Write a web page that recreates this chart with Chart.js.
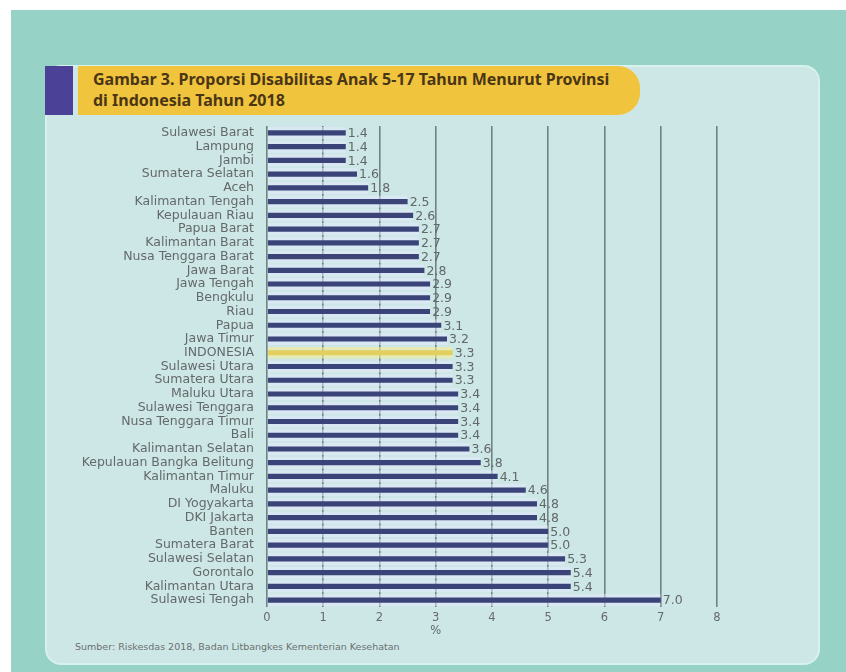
<!DOCTYPE html>
<html>
<head>
<meta charset="utf-8">
<script src="https://cdn.jsdelivr.net/npm/chart.js@4/dist/chart.umd.min.js"></script>
<style>
  html, body { margin: 0; padding: 0; background: #ffffff; }
  #page { position: relative; width: 846px; height: 672px; overflow: hidden; }
  #teal { position: absolute; left: 11px; top: 10px; right: 0; bottom: 0; background: #97d2c7; }
  #panel { position: absolute; left: 45px; top: 65px; width: 771px; height: 596px;
    background: #cde7e6; border: 2px solid #d7f1ec; border-radius: 16px; }
  #mark { position: absolute; left: 45px; top: 66px; width: 28px; height: 49px; background: #4b4197; }
  #banner { position: absolute; left: 78px; top: 66px; width: 562px; height: 49px;
    background: #f1c43e; border-radius: 0 22px 22px 0; }
  #title { position: absolute; left: 93px; top: 69px; font: bold 16px "Noto Sans", sans-serif;
    line-height: 21px; color: #4a3616; }
  #source { position: absolute; left: 75px; top: 641px; font: 9.5px "DejaVu Sans", sans-serif; color: #6a7070; }
  canvas { position: absolute; left: 0; top: 0; }
</style>
</head>
<body>
<div id="page">
  <div id="teal"></div>
  <div id="panel"></div>
  <div id="mark"></div>
  <div id="banner"></div>
  <div id="title">Gambar 3. Proporsi Disabilitas Anak 5-17 Tahun Menurut Provinsi<br>di Indonesia Tahun 2018</div>
  <div id="source">Sumber: Riskesdas 2018, Badan Litbangkes Kementerian Kesehatan</div>
  <canvas id="chart" width="846" height="672"></canvas>
</div>
<script>
// data
const provinsi = [
  "Sulawesi Barat", "Lampung", "Jambi", "Sumatera Selatan", "Aceh",
  "Kalimantan Tengah", "Kepulauan Riau", "Papua Barat", "Kalimantan Barat",
  "Nusa Tenggara Barat", "Jawa Barat", "Jawa Tengah", "Bengkulu", "Riau",
  "Papua", "Jawa Timur", "INDONESIA", "Sulawesi Utara", "Sumatera Utara",
  "Maluku Utara", "Sulawesi Tenggara", "Nusa Tenggara Timur", "Bali",
  "Kalimantan Selatan", "Kepulauan Bangka Belitung", "Kalimantan Timur",
  "Maluku", "DI Yogyakarta", "DKI Jakarta", "Banten", "Sumatera Barat",
  "Sulawesi Selatan", "Gorontalo", "Kalimantan Utara", "Sulawesi Tengah"
];
const proporsi = [
  1.4, 1.4, 1.4, 1.6, 1.8,
  2.5, 2.6, 2.7, 2.7,
  2.7, 2.8, 2.9, 2.9, 2.9,
  3.1, 3.2, 3.3, 3.3, 3.3,
  3.4, 3.4, 3.4, 3.4,
  3.6, 3.8, 4.1,
  4.6, 4.8, 4.8, 5.0, 5.0,
  5.3, 5.4, 5.4, 7.0
];
const xTicks = [0, 1, 2, 3, 4, 5, 6, 7, 8];
const satuan = "%";

const isNasional = provinsi.map(p => p === "INDONESIA");

// label angka di ujung batang
const valueLabels = {
  id: "valueLabels",
  afterDatasetsDraw(chart) {
    const ctx = chart.ctx;
    const meta = chart.getDatasetMeta(0);
    ctx.save();
    ctx.font = "12.5px 'DejaVu Sans', sans-serif";
    ctx.fillStyle = "#62686a";
    ctx.textAlign = "left";
    ctx.textBaseline = "middle";
    meta.data.forEach((bar, i) => {
      ctx.fillText(proporsi[i].toFixed(1), bar.x + 2, bar.y + 1);
    });
    // judul sumbu x "%" di bawah angka 3
    const xs = chart.scales.x;
    ctx.font = "11.5px 'DejaVu Sans', sans-serif";
    ctx.textAlign = "center";
    ctx.fillText(satuan, xs.getPixelForValue(3), 631);
    ctx.restore();
  }
};

new Chart(document.getElementById("chart").getContext("2d"), {
  type: "bar",
  data: {
    labels: provinsi,
    datasets: [{
      data: proporsi,
      backgroundColor: isNasional.map(n => n ? "#e3cf5e" : "#3a4479"),
      borderColor: isNasional.map(n => n ? "rgba(245,236,150,0.6)" : "rgba(232,234,255,0.5)"),
      borderWidth: { top: 3.5, bottom: 3.5, left: 0, right: 0 },
      borderSkipped: false,
      barThickness: 11.5
    }]
  },
  options: {
    indexAxis: "y",
    responsive: false,
    animation: false,
    layout: { padding: { left: 0, right: 129, top: 126, bottom: 35 } },
    plugins: { legend: { display: false }, tooltip: { enabled: false } },
    scales: {
      x: {
        min: 0,
        max: 8,
        afterBuildTicks: s => { s.ticks = xTicks.map(v => ({ value: v })); },
        afterFit: s => { s.height = 30; },
        grid: { color: "#6f8284", lineWidth: 1.6, drawTicks: false },
        border: { display: false },
        ticks: { color: "#666b6d", padding: 4, font: { family: "DejaVu Sans", size: 11.5 } }
      },
      y: {
        afterFit: s => { s.width = 267; },
        grid: { display: false },
        border: { display: false },
        ticks: { color: "#64696b", padding: 5, autoSkip: false, font: { family: "DejaVu Sans", size: 12.5 } }
      }
    }
  },
  plugins: [valueLabels]
});
</script>
</body>
</html>
